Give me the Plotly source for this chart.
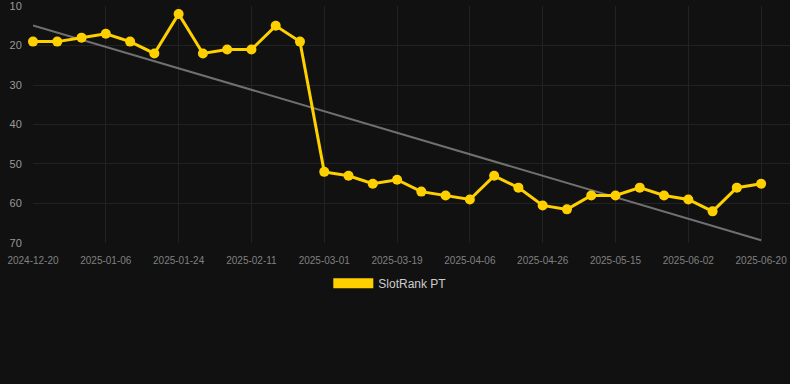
import numpy as np
import plotly.graph_objects as go

dates = [
    "2024-12-20", "2024-12-26", "2024-12-31",
    "2025-01-06", "2025-01-12", "2025-01-18",
    "2025-01-24", "2025-01-30", "2025-02-05",
    "2025-02-11", "2025-02-17", "2025-02-23",
    "2025-03-01", "2025-03-07", "2025-03-13",
    "2025-03-19", "2025-03-25", "2025-03-31",
    "2025-04-06", "2025-04-13", "2025-04-19",
    "2025-04-26", "2025-05-02", "2025-05-08",
    "2025-05-15", "2025-05-21", "2025-05-27",
    "2025-06-02", "2025-06-08", "2025-06-14",
    "2025-06-20",
]
rank = [
    19, 19, 18, 17, 19, 22, 12, 22, 21, 21, 15, 19,
    52, 53, 55, 54, 57, 58, 59, 53, 56, 60.5, 61.5,
    58, 58, 56, 58, 59, 62, 56, 55,
]
series_name = "SlotRank PT"
y_ticks = [10, 20, 30, 40, 50, 60, 70]
x_ticks = dates[::3]

BG = "#111111"
GOLD = "#FFD000"
GRID = "#222222"

# linear trend from the data
idx = np.arange(len(rank))
slope, intercept = np.polyfit(idx, rank, 1)
trend_x = [dates[0], dates[-1]]
trend_y = [intercept + slope * idx[0], intercept + slope * idx[-1]]

fig = go.Figure()
fig.add_trace(go.Scatter(
    x=trend_x, y=trend_y, mode="lines",
    line=dict(color="#707070", width=2),
    showlegend=False, hoverinfo="skip",
))
fig.add_trace(go.Scatter(
    x=dates, y=rank, mode="lines+markers", name=series_name,
    line=dict(color=GOLD, width=3),
    marker=dict(color=GOLD, size=10),
    cliponaxis=False, showlegend=False, legendgroup="main",
))
# legend swatch (filled box like the reference)
fig.add_trace(go.Scatter(
    x=[None], y=[None], mode="lines", name=series_name,
    line=dict(color=GOLD, width=12), legendgroup="main",
))

fig.update_layout(
    width=790, height=384,
    margin=dict(l=33, r=0, t=6, b=141),
    paper_bgcolor=BG, plot_bgcolor=BG,
    font=dict(family="Arial, Liberation Sans, sans-serif", color="#cccccc"),
    showlegend=True,
    legend=dict(
        orientation="h", x=0.472, xanchor="center", y=-0.17, yanchor="middle",
        font=dict(size=12, color="#cccccc"), bgcolor="rgba(0,0,0,0)",
        itemwidth=40,
    ),
)
fig.update_xaxes(
    type="category", categoryorder="array", categoryarray=dates,
    range=[0, 31.19],
    tickmode="array", tickvals=x_ticks, ticktext=x_ticks,
    showgrid=True, gridcolor=GRID, gridwidth=1,
    zeroline=False, showline=False,
    ticks="outside", ticklen=8, tickcolor="rgba(0,0,0,0)",
    tickfont=dict(size=10, color="#808080"),
    ticklabeloverflow="allow",
)
fig.update_yaxes(
    range=[70.02, 9.98], tickmode="array", tickvals=y_ticks,
    showgrid=True, gridcolor=GRID, gridwidth=1,
    zeroline=False, showline=False,
    ticks="outside", ticklen=8, tickcolor="rgba(0,0,0,0)",
    tickfont=dict(size=11, color="#999999"),
    ticklabeloverflow="allow",
)

fig.write_html(
    "out.html",
    config={"displayModeBar": False},
    post_script="document.body.style.margin='0';document.body.style.background='#111111';",
)
